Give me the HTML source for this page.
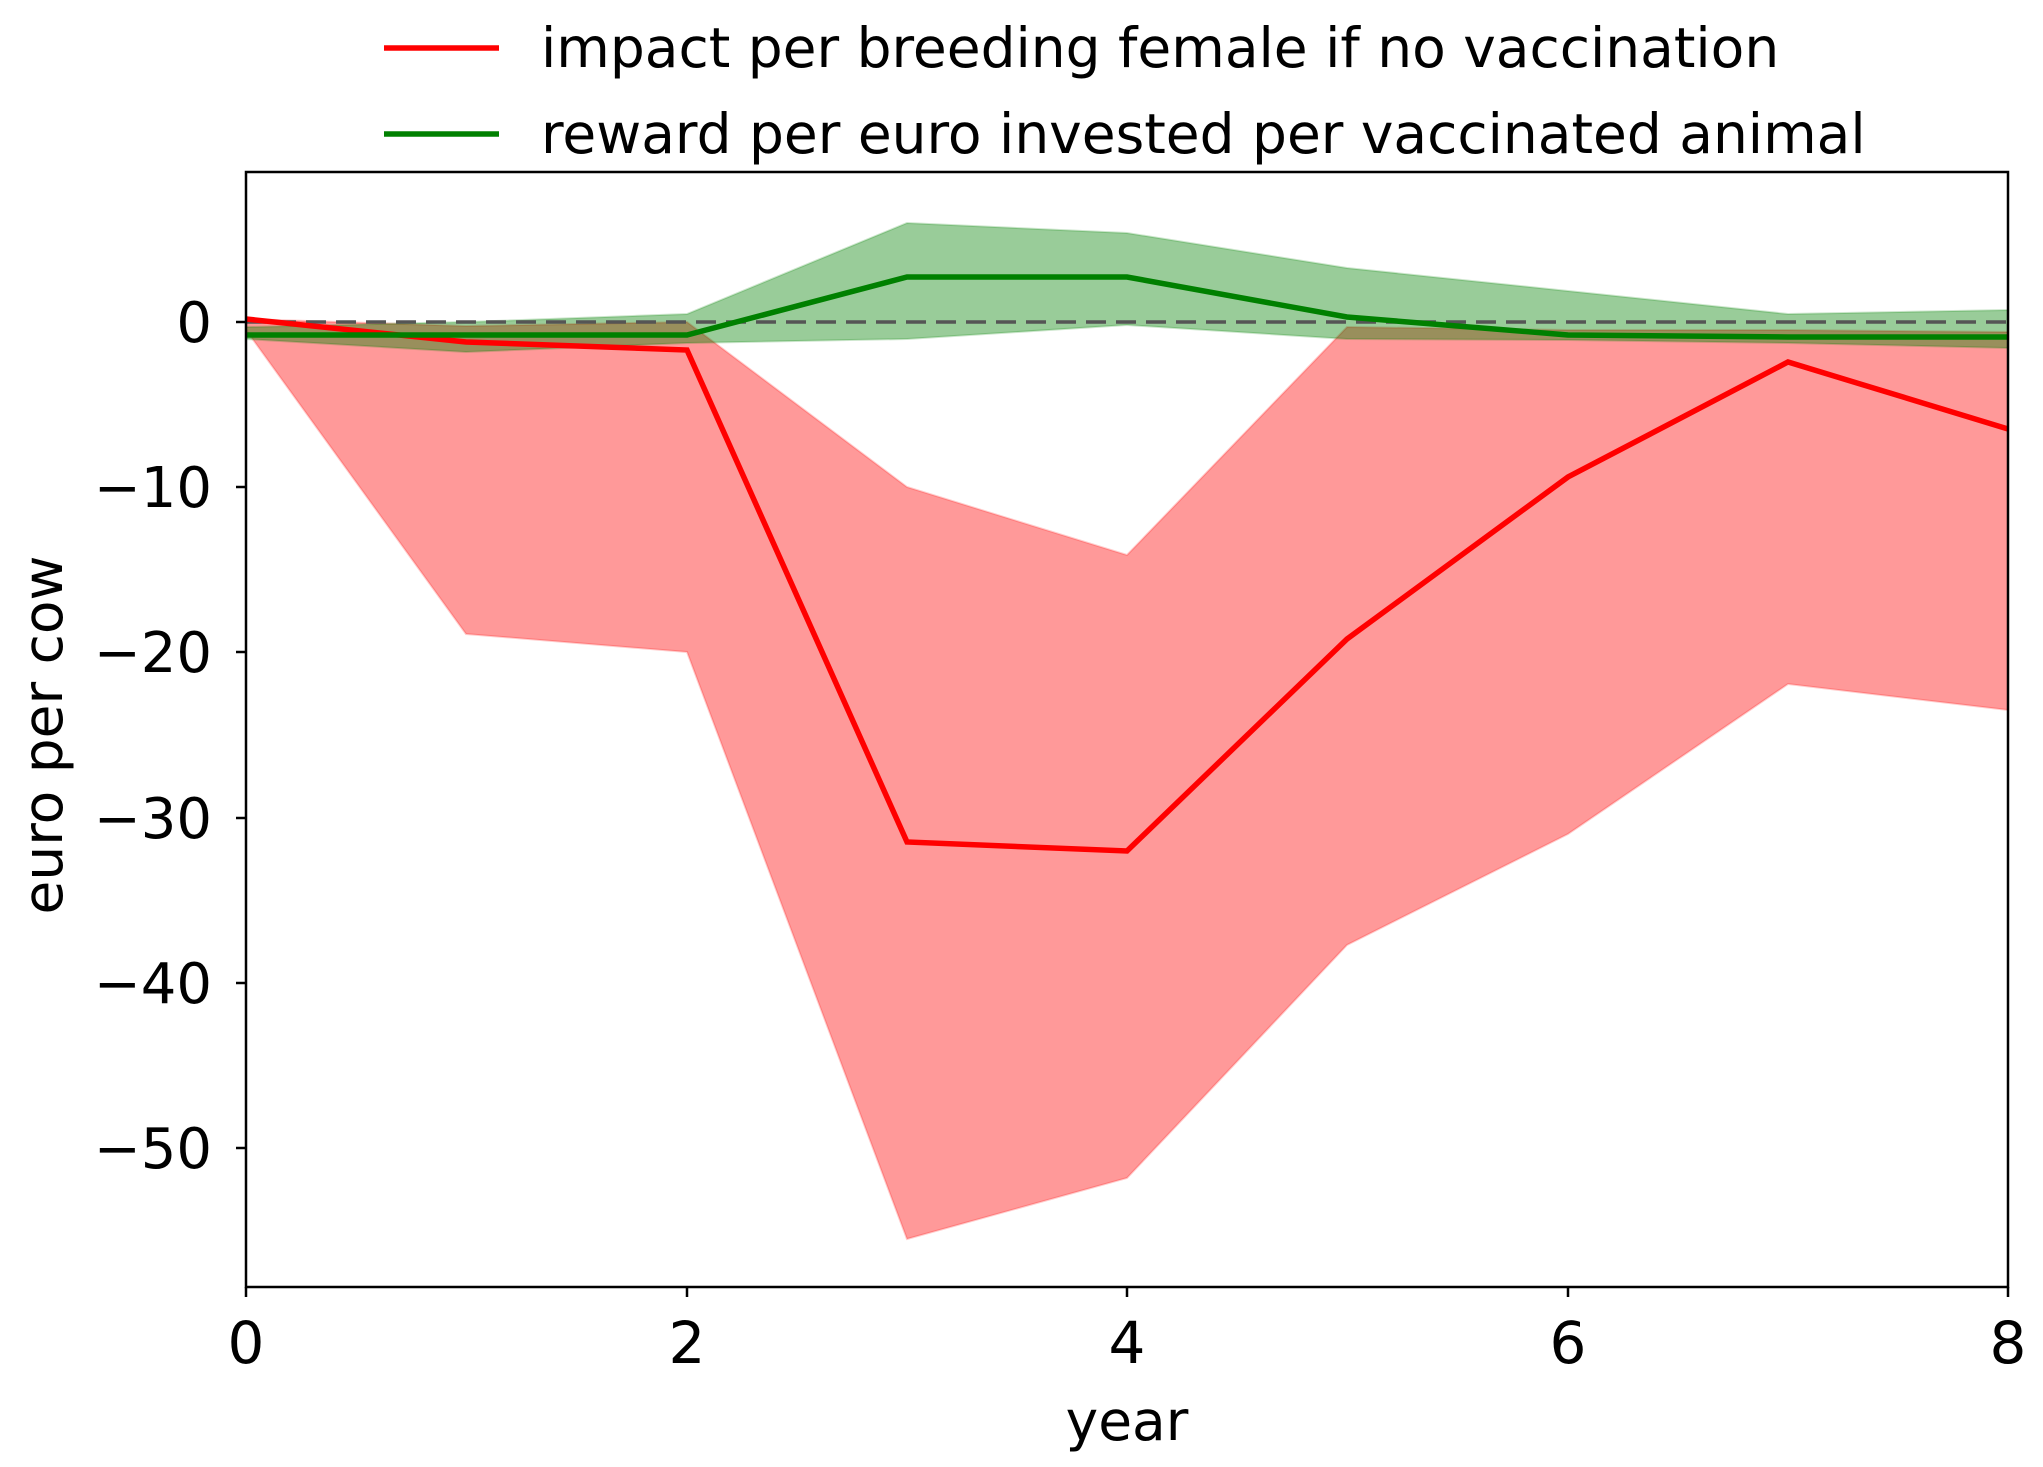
<!DOCTYPE html>
<html><head><meta charset="utf-8"><style>
html,body{margin:0;padding:0;background:#fff}
svg{display:block}
text{font-family:"DejaVu Sans","Liberation Sans",sans-serif;fill:#000}
</style></head><body>
<svg width="2043" height="1467" viewBox="0 0 2043 1467" xmlns="http://www.w3.org/2000/svg">
<g>
<polygon fill="#ff0000" fill-opacity="0.4" stroke="#ff0000" stroke-opacity="0.2" stroke-width="2"
points="246,319 466,326 687,322 907,487 1127,555 1347,327 1568,330 1788,330 2008,332
2008,710 1788,684 1568,834 1347,945 1127,1178 907,1239 687,652 466,634 246,330"/>
<polygon fill="#008000" fill-opacity="0.4" stroke="#008000" stroke-opacity="0.2" stroke-width="2"
points="246,327 466,322 687,314 907,223 1127,233 1347,268 1568,291 1788,314 2008,310
2008,348 1788,343 1568,340 1347,339 1127,325 907,339 687,343 466,352 246,339"/>
<line x1="246" y1="322" x2="2008" y2="322" stroke="#555" stroke-width="3.5" stroke-dasharray="20,10"/>
<polyline fill="none" stroke="#ff0000" stroke-width="5.5" points="246,319 466,342 687,350 907,842 1127,851 1347,639 1568,477 1788,362 2008,429"/>
<polyline fill="none" stroke="#008000" stroke-width="5.5" points="246,335 466,335 687,335 907,277 1127,277 1347,317 1568,335 1788,337 2008,337"/>
</g>
<rect x="246" y="172" width="1762" height="1115" fill="none" stroke="#000" stroke-width="2.5"/>
<g stroke="#000" stroke-width="2.5">
<line x1="236" y1="322" x2="246" y2="322"/><line x1="236" y1="487" x2="246" y2="487"/>
<line x1="236" y1="652" x2="246" y2="652"/><line x1="236" y1="818" x2="246" y2="818"/>
<line x1="236" y1="983" x2="246" y2="983"/><line x1="236" y1="1148" x2="246" y2="1148"/>
<line x1="246" y1="1287" x2="246" y2="1297"/><line x1="687" y1="1287" x2="687" y2="1297"/>
<line x1="1127" y1="1287" x2="1127" y2="1297"/><line x1="1568" y1="1287" x2="1568" y2="1297"/>
<line x1="2008" y1="1287" x2="2008" y2="1297"/>
</g>
<g font-size="56" text-anchor="end">
<text x="212" y="342">0</text><text x="212" y="507">−10</text><text x="212" y="672">−20</text>
<text x="212" y="838">−30</text><text x="212" y="1003">−40</text><text x="212" y="1168">−50</text>
</g>
<g font-size="58" text-anchor="middle">
<text x="246" y="1363">0</text><text x="687" y="1363">2</text><text x="1127" y="1363">4</text>
<text x="1568" y="1363">6</text><text x="2008" y="1363">8</text>
</g>
<g font-size="55" text-anchor="middle">
<text x="1127" y="1440">year</text>
<text transform="translate(62,735) rotate(-90)">euro per cow</text>
</g>
<line x1="384" y1="48" x2="499" y2="48" stroke="#ff0000" stroke-width="5.5"/>
<line x1="384" y1="134" x2="499" y2="134" stroke="#008000" stroke-width="5.5"/>
<g font-size="55">
<text x="541" y="67">impact per breeding female if no vaccination</text>
<text x="541" y="153">reward per euro invested per vaccinated animal</text>
</g>
</svg>
</body></html>
